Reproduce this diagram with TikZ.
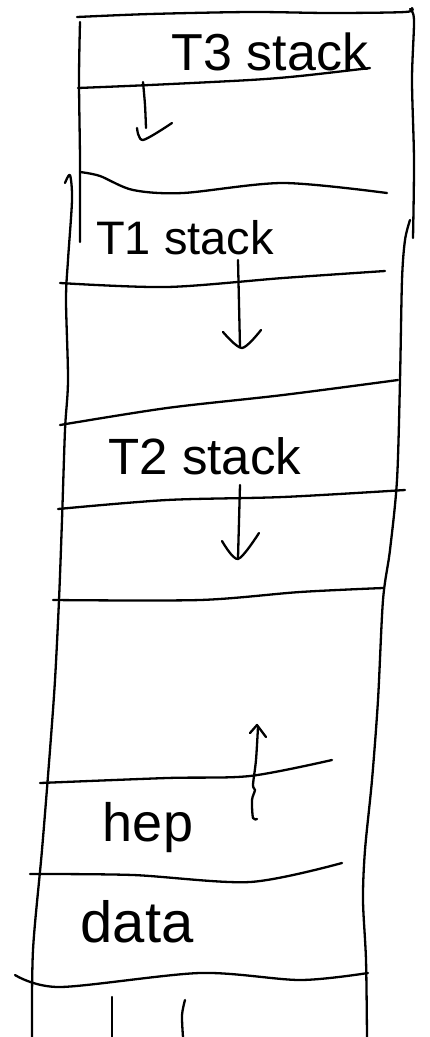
\documentclass[tikz,border=0pt]{standalone}
\usepackage{fontspec}
\setmainfont{Liberation Sans}
\begin{document}
\begin{tikzpicture}[x=1pt,y=-1pt,
  ink/.style={line width=2.3pt, line cap=round, line join=round, black},
  lbl/.style={inner sep=0pt}]
\useasboundingbox[fill=white] (0,0) rectangle (429,1037);
% outer walls
\draw[ink] plot[smooth] coordinates {(80,22) (79,80) (80,160) (80,242)};
\draw[ink] plot[smooth] coordinates {(65,183) (70,175) (72,200) (68,260) (66,300) (68,380) (65,430) (62,520) (59,600) (55,680) (50,750) (42,850) (33,950) (32,1037)};
\draw[ink] plot[smooth] coordinates {(410,9) (414,20) (412,80) (414,160) (413,238)};
\draw[ink] plot[smooth] coordinates {(410,220) (405,240) (402,280) (400,380) (397,480) (390,550) (383,600) (378,700) (372,780) (365,850) (363,900) (366,960) (367,1037)};
% horizontal dividers
\draw[ink] plot[smooth] coordinates {(77,17) (150,14) (250,12) (330,13) (405,12) (412,8)};
\draw[ink] plot[smooth] coordinates {(78,88) (150,85) (250,80) (300,76) (370,68)};
\draw[ink] plot[smooth] coordinates {(80,172) (100,176) (133,190) (183,193) (283,183) (387,193)};
\draw[ink] plot[smooth] coordinates {(60,283) (167,287) (283,278) (385,271)};
\draw[ink] plot[smooth] coordinates {(60,425) (167,408) (283,395) (398,380)};
\draw[ink] plot[smooth] coordinates {(58,509) (167,500) (283,497) (405,490)};
\draw[ink] plot[smooth] coordinates {(53,600) (200,600) (300,592) (383,588)};
\draw[ink] plot[smooth] coordinates {(40,783) (167,778) (250,776) (332,760)};
\draw[ink] plot[smooth] coordinates {(30,874) (133,875) (250,882) (342,863)};
\draw[ink] plot[smooth] coordinates {(15,975) (60,987) (200,973) (300,980) (368,973)};
% labels
\node[lbl, font=\fontsize{52}{52}\selectfont] (t3) at (270,52) {T3 stack};
\node[lbl, font=\fontsize{47}{47}\selectfont] (t1) at (185,238) {T1 stack};
\node[lbl, font=\fontsize{51}{51}\selectfont] (t2) at (205,456) {T2 stack};
\node[lbl, font=\fontsize{54}{54}\selectfont] (heap) at (148,828) {hep};
\node[lbl, font=\fontsize{58}{58}\selectfont] (data) at (137,922) {data};
% growth arrows
\draw[ink] plot[smooth] coordinates {(143,82) (145,105) (146,128)};
\draw[ink] plot[smooth] coordinates {(137,128) (143,140) (172,123)};
\draw[ink] (238,260) -- (240,347);
\draw[ink] plot[smooth] coordinates {(223,332) (242,348) (261,330)};
\draw[ink] (240,485) -- (238,558);
\draw[ink] plot[smooth] coordinates {(222,541) (238,559) (259,533)};
\draw[ink] plot[smooth] coordinates {(257,819) (253,818) (252,800) (255,790) (253,785) (256,760) (258,727)};
\draw[ink] (250,733) -- (257,725) -- (266,737);
% bottom partial strokes
\draw[ink] (112,997) -- (112,1037);
\draw[ink] plot[smooth] coordinates {(185,1000) (182,1015) (183,1037)};
\end{tikzpicture}
\end{document}
